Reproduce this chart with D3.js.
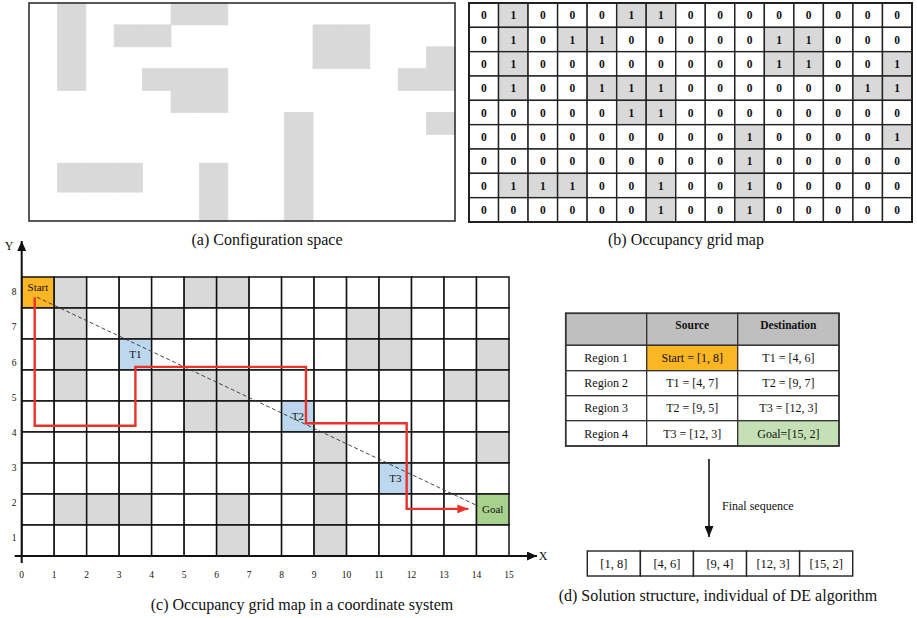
<!DOCTYPE html>
<html>
<head>
<meta charset="utf-8">
<script src="https://cdn.jsdelivr.net/npm/d3@7"></script>
<style>
  html, body { margin: 0; padding: 0; background: #fff; }
  svg { display: block; }
  text { font-family: "Liberation Serif", "Times New Roman", serif; fill: #111; }
</style>
</head>
<body>
<svg id="fig" width="917" height="618"></svg>
<script>
// ---- data ----------------------------------------------------------------
// occupancy grid, top row first (1 = obstacle)
const gridRows = [
  [0,1,0,0,0,1,1,0,0,0,0,0,0,0,0],
  [0,1,0,1,1,0,0,0,0,0,1,1,0,0,0],
  [0,1,0,0,0,0,0,0,0,0,1,1,0,0,1],
  [0,1,0,0,1,1,1,0,0,0,0,0,0,1,1],
  [0,0,0,0,0,1,1,0,0,0,0,0,0,0,0],
  [0,0,0,0,0,0,0,0,0,1,0,0,0,0,1],
  [0,0,0,0,0,0,0,0,0,1,0,0,0,0,0],
  [0,1,1,1,0,0,1,0,0,1,0,0,0,0,0],
  [0,0,0,0,0,0,1,0,0,1,0,0,0,0,0]
];
const xTicks = [0,1,2,3,4,5,6,7,8,9,10,11,12,13,14,15];
const yTicks = [1,2,3,4,5,6,7,8];

// marked cells in the coordinate-system grid: [column, row from top]
const markNames = ["Start", "T1", "T2", "T3", "Goal"];
const markCells = [[0,0], [3,2], [8,4], [11,6], [14,7]];
const markKinds = ["start", "target", "target", "target", "goal"];

// route through the targets (grid coordinates, y up)
const routeX = [0.4, 0.4, 3.5, 3.5, 8.75, 8.75, 11.85, 11.85, 13.75];
const routeY = [8.35, 4.2, 4.2, 6.1, 6.1, 4.28, 4.28, 1.52, 1.52];
// straight start-goal reference
const directX = [0.47, 14.05];
const directY = [8.35, 1.61];

// region table
const tableHead = ["", "Source", "Destination"];
const regions = ["Region 1", "Region 2", "Region 3", "Region 4"];
const sources = ["Start = [1, 8]", "T1 = [4, 7]", "T2 = [9, 5]", "T3 = [12, 3]"];
const destinations = ["T1 = [4, 6]", "T2 = [9, 7]", "T3 = [12, 3]", "Goal=[15, 2]"];
const sequence = ["[1, 8]", "[4, 6]", "[9, 4]", "[12, 3]", "[15, 2]"];

// ---- styles --------------------------------------------------------------
const C = {
  obstacle: "#d9d9d9", line: "#1a1a1a", start: "#fbb624",
  target: "#bdd7ee", goal: "#a9d18e", goalCell: "#c5e0b4",
  head: "#bfbfbf", route: "#e8332a"
};

const svg = d3.select("#fig");
const defs = svg.append("defs");
function arrowMarker(id, color, w, h) {
  defs.append("marker").attr("id", id)
    .attr("viewBox", `0 0 ${w} ${h}`).attr("refX", w).attr("refY", h / 2)
    .attr("markerWidth", w).attr("markerHeight", h)
    .attr("markerUnits", "userSpaceOnUse").attr("orient", "auto")
    .append("path").attr("d", `M0,0L${w},${h / 2}L0,${h}Z`).attr("fill", color);
}
arrowMarker("arRed", C.route, 11, 9);
arrowMarker("arBlack", "#111", 11, 9);
arrowMarker("arAxis", "#111", 10, 9);

const cells = [];
gridRows.forEach((row, r) => row.forEach((v, c) => cells.push({ r, c, v })));

// ---- (a) configuration space --------------------------------------------
{
  const x = d3.scaleLinear().domain([0, 15]).range([29, 455]);
  const y = d3.scaleLinear().domain([0, 6, 9]).range([3, 134.3, 221]);
  const g = svg.append("g");
  g.selectAll("rect.ob").data(cells.filter(d => d.v === 1)).join("rect")
    .attr("x", d => x(d.c)).attr("y", d => y(d.r))
    .attr("width", d => x(d.c + 1) - x(d.c)).attr("height", d => y(d.r + 1) - y(d.r))
    .attr("fill", C.obstacle).attr("stroke", C.obstacle).attr("stroke-width", 0.8);
  g.append("rect").attr("x", x(0)).attr("y", y(0))
    .attr("width", x(15) - x(0)).attr("height", y(9) - y(0))
    .attr("fill", "none").attr("stroke", "#222").attr("stroke-width", 1.5);
  g.append("text").attr("x", 267).attr("y", 245).attr("text-anchor", "middle")
    .attr("font-size", 16).text("(a) Configuration space");
}

// ---- (b) occupancy grid map ---------------------------------------------
{
  const x = d3.scaleLinear().domain([0, 15]).range([469, 912]);
  const y = d3.scaleLinear().domain([0, 9]).range([3, 222]);
  const g = svg.append("g");
  g.selectAll("rect.c").data(cells).join("rect")
    .attr("x", d => x(d.c)).attr("y", d => y(d.r))
    .attr("width", x(1) - x(0)).attr("height", y(1) - y(0))
    .attr("fill", d => d.v ? C.obstacle : "#fff")
    .attr("stroke", "#222").attr("stroke-width", 1.4);
  g.selectAll("text.v").data(cells).join("text")
    .attr("x", d => x(d.c + 0.5)).attr("y", d => y(d.r + 0.5))
    .attr("dy", "0.35em").attr("text-anchor", "middle")
    .attr("font-size", 11.5).attr("font-weight", "bold").text(d => d.v);
  g.append("rect").attr("x", x(0)).attr("y", y(0))
    .attr("width", x(15) - x(0)).attr("height", y(9) - y(0))
    .attr("fill", "none").attr("stroke", "#222").attr("stroke-width", 2);
  g.append("text").attr("x", 686).attr("y", 245).attr("text-anchor", "middle")
    .attr("font-size", 16).text("(b) Occupancy grid map");
}

// ---- (c) grid map in a coordinate system --------------------------------
{
  const x = d3.scaleLinear().domain([0, 15]).range([21.7, 509]);
  const y = d3.scaleLinear().domain([0, 9]).range([556, 277]);
  const yLabel = d3.scaleLinear().domain([1, 8]).range([538, 292]);
  const g = svg.append("g");
  const fillOf = d => {
    const k = markCells.findIndex(m => m[0] === d.c && m[1] === d.r);
    if (k >= 0) return C[markKinds[k]];
    return d.v ? C.obstacle : "#fff";
  };
  g.selectAll("rect.c").data(cells).join("rect")
    .attr("x", d => x(d.c)).attr("y", d => y(9 - d.r))
    .attr("width", x(1) - x(0)).attr("height", y(0) - y(1))
    .attr("fill", fillOf).attr("stroke", "#111").attr("stroke-width", 1.5);

  // cell labels
  g.selectAll("text.m").data(markNames).join("text")
    .attr("x", (d, i) => x(markCells[i][0] + 0.5))
    .attr("y", (d, i) => y(9 - markCells[i][1] - (i === 0 ? 0.34 : 0.5)))
    .attr("dy", "0.35em").attr("text-anchor", "middle")
    .attr("font-size", 11).text(d => d);

  // straight reference line
  g.append("line")
    .attr("x1", x(directX[0])).attr("y1", y(directY[0]))
    .attr("x2", x(directX[1])).attr("y2", y(directY[1]))
    .attr("stroke", "#333").attr("stroke-width", 0.9).attr("stroke-dasharray", "4,2.5");

  // route
  const route = routeX.map((v, i) => [x(v), y(routeY[i])]);
  g.append("path").attr("d", d3.line()(route))
    .attr("fill", "none").attr("stroke", C.route).attr("stroke-width", 2.4)
    .attr("marker-end", "url(#arRed)");

  // axes
  g.append("line").attr("x1", x(0)).attr("y1", y(0) + 7).attr("x2", x(0)).attr("y2", 241)
    .attr("stroke", "#111").attr("stroke-width", 2).attr("marker-end", "url(#arAxis)");
  g.append("line").attr("x1", x(0) - 7).attr("y1", y(0)).attr("x2", 537).attr("y2", y(0))
    .attr("stroke", "#111").attr("stroke-width", 2).attr("marker-end", "url(#arAxis)");
  g.append("text").attr("x", 9).attr("y", 246).attr("dy", "0.35em")
    .attr("text-anchor", "middle").attr("font-size", 12).text("Y");
  g.append("text").attr("x", 543).attr("y", y(0)).attr("dy", "0.35em")
    .attr("text-anchor", "middle").attr("font-size", 12).text("X");

  g.selectAll("text.xt").data(xTicks).join("text")
    .attr("x", d => x(d)).attr("y", 575).attr("dy", "0.35em")
    .attr("text-anchor", "middle").attr("font-size", 9.5).text(d => d);
  g.selectAll("text.yt").data(yTicks).join("text")
    .attr("x", 14).attr("y", d => yLabel(d)).attr("dy", "0.35em")
    .attr("text-anchor", "middle").attr("font-size", 9.5).text(d => d);

  g.append("text").attr("x", 302).attr("y", 610).attr("text-anchor", "middle")
    .attr("font-size", 16).text("(c) Occupancy grid map in a coordinate system");
}

// ---- (d) solution structure ---------------------------------------------
{
  const g = svg.append("g");
  const colX = [565.7, 646.7, 737.7, 839];
  const rowY = [313.3, 345.3, 370.7, 395.7, 420.7, 446];
  const body = regions.map((r, i) => [r, sources[i], destinations[i]]);
  const tCells = [];
  tableHead.forEach((t, c) => tCells.push({ r: 0, c, t, head: true }));
  body.forEach((row, i) => row.forEach((t, c) => tCells.push({ r: i + 1, c, t })));
  const cellFill = d => {
    if (d.head) return C.head;
    if (d.r === 1 && d.c === 1) return C.start;
    if (d.r === 4 && d.c === 2) return C.goalCell;
    return "#fff";
  };
  g.selectAll("rect.t").data(tCells).join("rect")
    .attr("x", d => colX[d.c]).attr("y", d => rowY[d.r])
    .attr("width", d => colX[d.c + 1] - colX[d.c]).attr("height", d => rowY[d.r + 1] - rowY[d.r])
    .attr("fill", cellFill).attr("stroke", "#333").attr("stroke-width", 1.3);
  g.selectAll("text.t").data(tCells).join("text")
    .attr("x", d => (colX[d.c] + colX[d.c + 1]) / 2)
    .attr("y", d => (rowY[d.r] + rowY[d.r + 1]) / 2 - (d.head ? 4 : 0))
    .attr("dy", "0.35em").attr("text-anchor", "middle")
    .attr("font-size", d => d.head ? 11.5 : 12)
    .attr("font-weight", d => d.head ? "bold" : "normal")
    .text(d => d.t);
  g.append("rect").attr("x", colX[0]).attr("y", rowY[0])
    .attr("width", colX[3] - colX[0]).attr("height", rowY[5] - rowY[0])
    .attr("fill", "none").attr("stroke", "#333").attr("stroke-width", 1.6);

  // arrow to the final sequence
  g.append("line").attr("x1", 709).attr("y1", 459).attr("x2", 709).attr("y2", 537)
    .attr("stroke", "#111").attr("stroke-width", 1.6).attr("marker-end", "url(#arBlack)");
  g.append("text").attr("x", 722).attr("y", 506).attr("dy", "0.35em")
    .attr("font-size", 12).text("Final sequence");

  const sx = d3.scaleBand().domain(sequence).range([587.3, 852.7]);
  g.selectAll("rect.s").data(sequence).join("rect")
    .attr("x", d => sx(d)).attr("y", 551).attr("width", sx.bandwidth()).attr("height", 25)
    .attr("fill", "#fff").attr("stroke", "#222").attr("stroke-width", 1.4);
  g.selectAll("text.s").data(sequence).join("text")
    .attr("x", d => sx(d) + sx.bandwidth() / 2).attr("y", 563.5).attr("dy", "0.35em")
    .attr("text-anchor", "middle").attr("font-size", 12.5).text(d => d);

  g.append("text").attr("x", 718).attr("y", 601).attr("text-anchor", "middle")
    .attr("font-size", 16).text("(d) Solution structure, individual of DE algorithm");
}
</script>
</body>
</html>
